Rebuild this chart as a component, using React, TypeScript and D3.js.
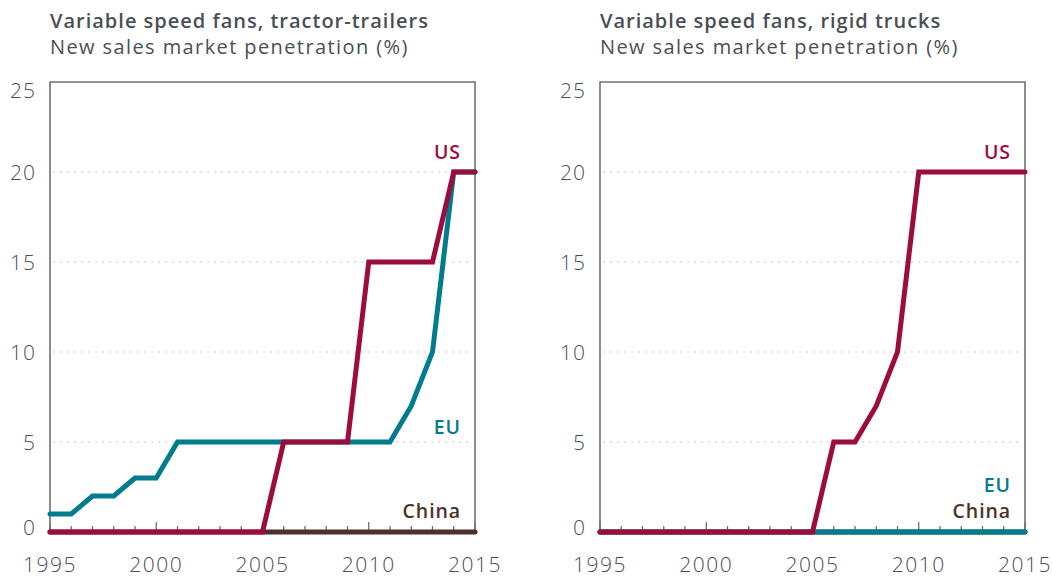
import React from "react";
import * as d3 from "d3";

const years = d3.range(1995, 2016);
const yTicks = [0, 5, 10, 15, 20, 25];
const xTickLabels = [1995, 2000, 2005, 2010, 2015];

// Tractor-trailers
const ttUS = [0, 0, 0, 0, 0, 0, 0, 0, 0, 0, 0, 5, 5, 5, 5, 15, 15, 15, 15, 20, 20];
const ttEU = [1, 1, 2, 2, 3, 3, 5, 5, 5, 5, 5, 5, 5, 5, 5, 5, 5, 7, 10, 20, 20];
const ttCN = [0, 0, 0, 0, 0, 0, 0, 0, 0, 0, 0, 0, 0, 0, 0, 0, 0, 0, 0, 0, 0];

// Rigid trucks
const rtUS = [0, 0, 0, 0, 0, 0, 0, 0, 0, 0, 0, 5, 5, 7, 10, 20, 20, 20, 20, 20, 20];
const rtEU = [0, 0, 0, 0, 0, 0, 0, 0, 0, 0, 0, 0, 0, 0, 0, 0, 0, 0, 0, 0, 0];
const rtCN = [0, 0, 0, 0, 0, 0, 0, 0, 0, 0, 0, 0, 0, 0, 0, 0, 0, 0, 0, 0, 0];

const COLORS = { US: "#9c0c3f", EU: "#007c8c", China: "#4b3128" };
const AXIS = "#6b7279";
const TEXT = "#4a4f55";
const FONT = "'Open Sans', sans-serif";

type Panel = {
  title: string;
  subtitle: string;
  x0: number;
  x1: number;
  series: { name: "US" | "EU" | "China"; values: number[] }[];
  labels: { name: "US" | "EU" | "China"; y: number }[];
};

const panels: Panel[] = [
  {
    title: "Variable speed fans, tractor-trailers",
    subtitle: "New sales market penetration (%)",
    x0: 50,
    x1: 475,
    series: [
      { name: "China", values: ttCN },
      { name: "EU", values: ttEU },
      { name: "US", values: ttUS },
    ],
    labels: [
      { name: "US", y: 159 },
      { name: "EU", y: 434 },
      { name: "China", y: 518 },
    ],
  },
  {
    title: "Variable speed fans, rigid trucks",
    subtitle: "New sales market penetration (%)",
    x0: 600,
    x1: 1025,
    series: [
      { name: "China", values: rtCN },
      { name: "EU", values: rtEU },
      { name: "US", values: rtUS },
    ],
    labels: [
      { name: "US", y: 159 },
      { name: "EU", y: 492 },
      { name: "China", y: 518 },
    ],
  },
];

const Y_TOP = 82;
const Y_BOT = 532;

function PanelView({ p }: { p: Panel }) {
  const x = d3.scaleLinear().domain([1995, 2015]).range([p.x0, p.x1]);
  const y = d3.scaleLinear().domain([0, 25]).range([Y_BOT, Y_TOP]);
  const line = d3
    .line<number>()
    .x((_, i) => x(years[i]))
    .y((d) => y(d));
  return (
    <g>
      <text x={p.x0} y={28} fontFamily={FONT} fontWeight={600} fontSize={20} letterSpacing={1.0} fill={TEXT}>
        {p.title}
      </text>
      <text x={p.x0} y={54} fontFamily={FONT} fontWeight={400} fontSize={20} letterSpacing={1.4} fill={TEXT}>
        {p.subtitle}
      </text>
      {yTicks
        .filter((t) => t > 0 && t < 25)
        .map((t) => (
          <line
            key={"g" + t}
            x1={p.x0 + 4}
            x2={p.x1 - 3}
            y1={y(t)}
            y2={y(t)}
            stroke="#b9bdc1"
            strokeWidth={1.5}
            strokeDasharray="0.1 6.9"
            strokeLinecap="round"
          />
        ))}
      {yTicks.map((t) => (
        <text
          key={"yl" + t}
          x={p.x0 - 14}
          y={y(t) + (t === 25 ? 8 : t === 0 ? -5 : 0)}
          textAnchor="end"
          dominantBaseline="central"
          fontFamily={FONT}
          fontWeight={300}
          fontSize={21}
          letterSpacing={1}
          fill={TEXT}
        >
          {t}
        </text>
      ))}
      <path
        d={`M${p.x0},${Y_BOT}V${Y_TOP}H${p.x1}V${Y_BOT}`}
        fill="none"
        stroke={AXIS}
        strokeWidth={1.6}
      />
      {years.map((yr) => (
        <line
          key={"t" + yr}
          x1={x(yr)}
          x2={x(yr)}
          y1={Y_BOT}
          y2={Y_BOT - (yr % 5 === 0 ? 10 : 6)}
          stroke={AXIS}
          strokeWidth={1.3}
        />
      ))}
      <line x1={p.x0} x2={p.x1} y1={Y_BOT} y2={Y_BOT} stroke={AXIS} strokeWidth={1.6} />
      {p.series.map((s) => (
        <path
          key={s.name}
          d={line(s.values) || ""}
          fill="none"
          stroke={COLORS[s.name]}
          strokeWidth={5}
          strokeLinejoin="miter"
          strokeLinecap="round"
        />
      ))}
      {xTickLabels.map((yr) => (
        <text
          key={"xl" + yr}
          x={x(yr)}
          y={572}
          textAnchor="middle"
          fontFamily={FONT}
          fontWeight={300}
          fontSize={21}
          letterSpacing={1.5}
          fill={TEXT}
        >
          {yr}
        </text>
      ))}
      {p.labels.map((l) => (
        <text
          key={"l" + l.name}
          x={p.x1 - 14}
          y={l.y}
          textAnchor="end"
          fontFamily={FONT}
          fontWeight={600}
          fontSize={19.5}
          letterSpacing={0.9}
          fill={COLORS[l.name]}
        >
          {l.name}
        </text>
      ))}
    </g>
  );
}

export default function App() {
  return (
    <svg
      width={1052}
      height={577}
      style={{ position: "absolute", left: 0, top: 0, background: "#fff" }}
    >
      {panels.map((p) => (
        <PanelView key={p.title} p={p} />
      ))}
    </svg>
  );
}
